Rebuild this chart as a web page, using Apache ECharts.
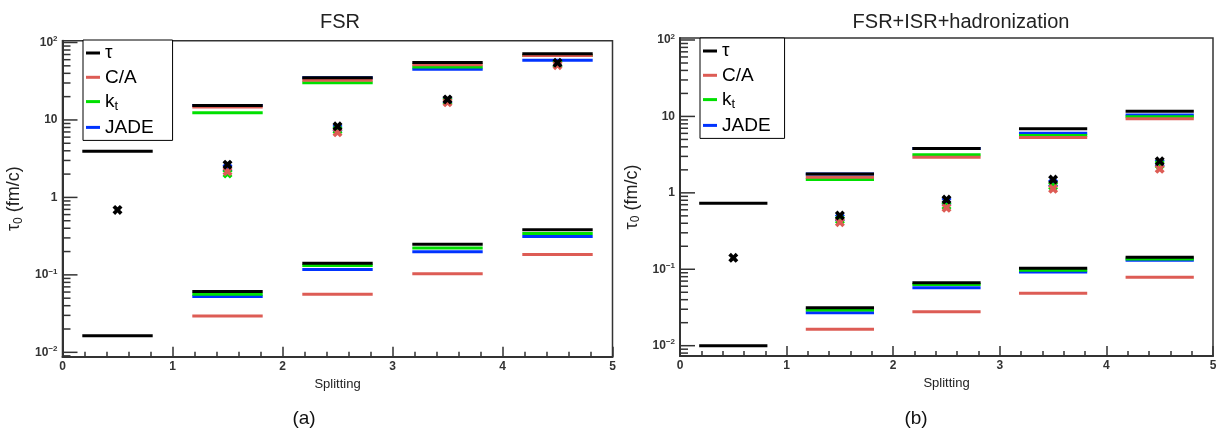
<!DOCTYPE html>
<html>
<head>
<meta charset="utf-8">
<script src="https://cdn.jsdelivr.net/npm/echarts@6/dist/echarts.min.js"></script>
<style>
  html, body { margin: 0; padding: 0; background: #ffffff; }
  #chart { width: 1223px; height: 438px; }
</style>
</head>
<body>
<div id="chart"></div>
<script>
// Splitting bins (left edge of each bin)
const splittings = [0, 1, 2, 3, 4];
const algorithms = ['τ', 'C/A', 'kt', 'JADE'];

// ---- FSR: upper / lower formation-time bands and medians (fm/c) ----
const fsrTauUpper  = [3.94, 15.4, 35.1, 55.3, 71.6];
const fsrCaUpper   = [null, 14.7, 32.6, 51.6, 68.1];
const fsrKtUpper   = [null, 12.4, 30.2, 48.1, 68.1];
const fsrJadeUpper = [null, 15.4, 35.1, 45.3, 59.2];

const fsrTauLower  = [0.0164, 0.0608, 0.1416, 0.249, 0.382];
const fsrCaLower   = [null, 0.0295, 0.0563, 0.103, 0.183];
const fsrKtLower   = [null, 0.0563, 0.1318, 0.2215, 0.342];
const fsrJadeLower = [null, 0.0524, 0.117, 0.1985, 0.313];

const fsrTauMedian  = [0.69, 2.65, 8.28, 18.4, 54.8];
const fsrCaMedian   = [null, 2.17, 6.93, 16.9, 51.0];
const fsrKtMedian   = [null, 2.03, 7.4, 17.4, 52.5];
const fsrJadeMedian = [null, 2.4, 7.8, 17.9, 53.5];

// ---- FSR+ISR+hadronization ----
const fullTauUpper  = [0.731, 1.77, 3.8, 6.89, 11.7];
const fullCaUpper   = [null, 1.60, 2.92, 5.3, 9.3];
const fullKtUpper   = [null, 1.49, 3.14, 5.62, 9.88];
const fullJadeUpper = [null, 1.77, 3.8, 6.03, 10.4];

const fullTauLower  = [0.0100, 0.0313, 0.0664, 0.1031, 0.1436];
const fullCaLower   = [null, 0.0164, 0.0279, 0.0485, 0.0785];
const fullKtLower   = [null, 0.0294, 0.063, 0.097, 0.1367];
const fullJadeLower = [null, 0.0269, 0.0571, 0.0924, 0.131];

const fullTauMedian  = [0.141, 0.505, 0.817, 1.49, 2.59];
const fullCaMedian   = [null, 0.412, 0.636, 1.13, 2.06];
const fullKtMedian   = [null, 0.443, 0.68, 1.23, 2.35];
const fullJadeMedian = [null, 0.47, 0.77, 1.34, 2.45];

const FONT = "'Liberation Sans', Arial, Helvetica, sans-serif";
const COLORS = { 'τ': '#000000', 'C/A': '#dd5c55', 'kt': '#00e000', 'JADE': '#0033ff' };
const DRAW_ORDER = ['JADE', 'kt', 'C/A', 'τ'];
const SEG_START = 0.18, SEG_END = 0.82, MARK_POS = 0.5;

const panels = [
  {
    title: 'FSR', titleX: 340, titleY: 22, caption: '(a)', captionX: 304, captionY: 419,
    grid: { left: 62.5, top: 40.7, width: 550, height: 316 },
    yMin: 0.00878, yMax: 105.5,
    legend: { left: 83, top: 40, padding: [3.5, 19, 3.5, 3] },
    bands: {
      'τ':    { upper: fsrTauUpper,  lower: fsrTauLower,  median: fsrTauMedian },
      'C/A':  { upper: fsrCaUpper,   lower: fsrCaLower,   median: fsrCaMedian },
      'kt':   { upper: fsrKtUpper,   lower: fsrKtLower,   median: fsrKtMedian },
      'JADE': { upper: fsrJadeUpper, lower: fsrJadeLower, median: fsrJadeMedian }
    }
  },
  {
    title: 'FSR+ISR+hadronization', titleX: 961, titleY: 22, caption: '(b)', captionX: 916, captionY: 419,
    grid: { left: 680, top: 38, width: 533, height: 318 },
    yMin: 0.00733, yMax: 106.2,
    legend: { left: 700, top: 38, padding: [3.5, 14, 3.5, 3] },
    bands: {
      'τ':    { upper: fullTauUpper,  lower: fullTauLower,  median: fullTauMedian },
      'C/A':  { upper: fullCaUpper,   lower: fullCaLower,   median: fullCaMedian },
      'kt':   { upper: fullKtUpper,   lower: fullKtLower,   median: fullKtMedian },
      'JADE': { upper: fullJadeUpper, lower: fullJadeLower, median: fullJadeMedian }
    }
  }
];

// Heavy "x" marker used for the medians
const CROSS = 'path://M0,2.6 L2.6,0 L5,2.4 L7.4,0 L10,2.6 L7.6,5 L10,7.4 L7.4,10 L5,7.6 L2.6,10 L0,7.4 L2.4,5 Z';

function pairs(values) {
  const out = [];
  values.forEach((v, i) => { if (v != null) out.push([splittings[i], v]); });
  return out;
}

function logTicks(min, max) {
  const out = [];
  for (let e = -4; e <= 3; e++) {
    for (let k = 1; k <= 9; k++) {
      const v = k * Math.pow(10, e);
      if (v >= min && v <= max) out.push([v, k === 1 ? 1 : 0]);
    }
  }
  return out;
}

function yLabel(v) {
  const lg = Math.log10(v);
  const e = Math.round(lg);
  if (Math.abs(lg - e) > 1e-6) return '';
  if (e === 0) return '1';
  if (e === 1) return '10';
  return '10{sup|' + (e < 0 ? '\u2212' + (-e) : e) + '}';
}

const grids = [], xAxes = [], yAxes = [], series = [], legends = [], graphics = [];

panels.forEach((p, idx) => {
  grids.push(Object.assign({ show: true, borderColor: '#333', borderWidth: 1.5, backgroundColor: 'transparent' }, p.grid));

  xAxes.push({
    gridIndex: idx, type: 'value', min: 0, max: 5, interval: 1,
    name: 'Splitting', nameLocation: 'middle', nameGap: 17,
    nameTextStyle: { fontFamily: FONT, fontSize: 13, color: '#222' },
    axisLine: { show: true, lineStyle: { color: '#333', width: 2 } },
    axisTick: { show: true, inside: true, length: 10, lineStyle: { color: '#333', width: 1.5 } },
    minorTick: { show: true, splitNumber: 5, length: 5, lineStyle: { color: '#333', width: 1.5 } },
    axisLabel: { fontFamily: FONT, fontSize: 12, fontWeight: 'bold', color: '#333', margin: 4, showMinLabel: true, showMaxLabel: true },
    splitLine: { show: false }
  });

  yAxes.push({
    gridIndex: idx, type: 'log', logBase: 10, min: p.yMin, max: p.yMax,
    name: '{t|τ}{s|0}{t| (fm/c)}', nameLocation: 'middle', nameRotate: 90, nameGap: 38,
    nameTextStyle: {
      fontFamily: FONT, color: '#222',
      rich: {
        t: { fontFamily: FONT, fontSize: 18, color: '#222' },
        s: { fontFamily: FONT, fontSize: 12, color: '#222', padding: [8, 0, 0, 0] }
      }
    },
    axisLine: { show: true, lineStyle: { color: '#333', width: 2 } },
    axisTick: { show: false },
    minorTick: { show: false },
    splitLine: { show: false },
    axisLabel: {
      fontFamily: FONT, fontSize: 12, fontWeight: 'bold', color: '#333', margin: 5,
      formatter: yLabel,
      rich: { sup: { fontFamily: FONT, fontSize: 8, fontWeight: 'bold', color: '#333', padding: [0, 0, 7, 0] } }
    }
  });

  // Horizontal band segments and median crosses per algorithm
  DRAW_ORDER.forEach(name => {
    const b = p.bands[name];
    series.push({
      name: name, type: 'custom', xAxisIndex: idx, yAxisIndex: idx,
      itemStyle: { color: COLORS[name] },
      data: pairs(b.upper).concat(pairs(b.lower)),
      renderItem: (params, api) => {
        const s = api.value(0), v = api.value(1);
        const a = api.coord([s + SEG_START, v]);
        const c = api.coord([s + SEG_END, v]);
        return { type: 'line', shape: { x1: a[0], y1: a[1], x2: c[0], y2: c[1] },
                 style: { stroke: api.visual('color'), lineWidth: 3 } };
      },
      silent: true
    });
  });
  DRAW_ORDER.forEach(name => {
    const b = p.bands[name];
    series.push({
      name: name, type: 'scatter', xAxisIndex: idx, yAxisIndex: idx,
      symbol: CROSS, symbolSize: 10,
      itemStyle: { color: COLORS[name], opacity: 1 },
      data: pairs(b.median).map(d => [d[0] + MARK_POS, d[1]]),
      silent: true
    });
  });

  // Logarithmic tick marks on the y axis (decades and 2..9 sub-ticks)
  series.push({
    type: 'custom', xAxisIndex: idx, yAxisIndex: idx, silent: true, z: 5,
    data: logTicks(p.yMin, p.yMax),
    renderItem: (params, api) => {
      const v = api.value(0), major = api.value(1);
      const pt = api.coord([0, v]);
      const len = major ? 15 : 8;
      return { type: 'line', shape: { x1: pt[0], y1: pt[1], x2: pt[0] + len, y2: pt[1] },
               style: { stroke: '#333', lineWidth: 1.5 } };
    }
  });

  legends.push({
    data: algorithms, orient: 'vertical', left: p.legend.left, top: p.legend.top,
    padding: p.legend.padding, itemGap: 5.3, itemWidth: 14, itemHeight: 3, icon: 'rect',
    borderColor: '#000', borderWidth: 1, borderRadius: 0, backgroundColor: '#fff',
    selectedMode: false,
    formatter: n => (n === 'kt' ? 'k{t|t}' : n),
    textStyle: {
      fontFamily: FONT, fontSize: 19, color: '#000', lineHeight: 19,
      rich: { t: { fontFamily: FONT, fontSize: 13, color: '#000', padding: [9, 0, 0, 0] } }
    }
  });

  graphics.push({
    type: 'text', x: p.titleX, y: p.titleY, silent: true,
    style: { text: p.title, fontFamily: FONT, fontSize: 20, fill: '#222', align: 'center', verticalAlign: 'middle' }
  });
  graphics.push({
    type: 'text', x: p.captionX, y: p.captionY, silent: true,
    style: { text: p.caption, fontFamily: FONT, fontSize: 19, fill: '#111', align: 'center', verticalAlign: 'middle' }
  });
});

const chart = echarts.init(document.getElementById('chart'), null, { renderer: 'canvas' });
chart.setOption({
  animation: false,
  backgroundColor: '#ffffff',
  grid: grids,
  xAxis: xAxes,
  yAxis: yAxes,
  legend: legends,
  graphic: graphics,
  series: series
});
</script>
</body>
</html>
